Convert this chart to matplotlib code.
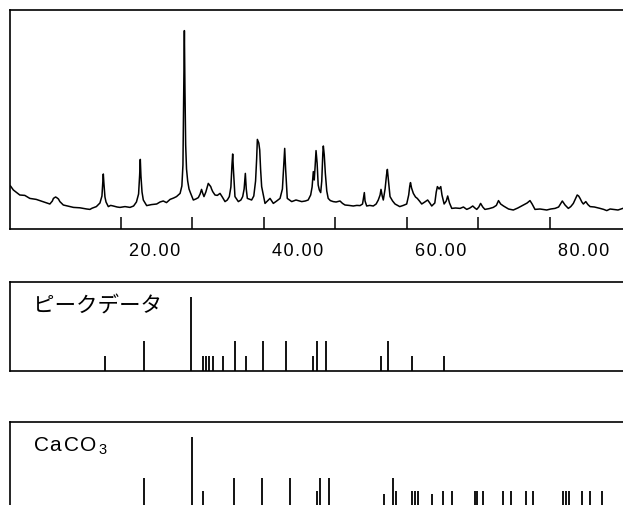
import matplotlib.pyplot as plt
import matplotlib.transforms as mtransforms

two_theta = [4.6, 5.0, 5.9, 6.6, 7.3, 8.2, 9.1, 10.1, 10.45, 10.6, 10.9, 11.05,
             11.3, 11.5, 11.98, 12.6, 13.4, 14.3, 15.25, 15.7, 16.0, 16.6, 17.1,
             17.38, 17.5, 17.57, 17.65, 17.8, 17.95, 18.27, 18.6, 18.97, 19.5,
             19.9, 20.6, 21.3, 21.8, 22.2, 22.5, 22.65, 22.74, 22.83, 22.98,
             23.16, 23.63, 24.3, 25.03, 25.5, 25.95, 26.4, 26.9, 27.4, 27.8,
             28.3, 28.55, 28.7, 28.8, 28.9, 28.98, 29.08, 29.2, 29.36, 29.55,
             29.78, 30.15, 30.5, 30.85, 31.1, 31.3, 31.45, 31.64, 31.9, 32.24,
             32.45, 32.58, 32.7, 32.86, 33.18, 33.5, 33.88, 34.2, 34.58, 34.9,
             35.18, 35.4, 35.55, 35.65, 35.75, 35.97, 36.44, 36.8, 37.05, 37.25,
             37.42, 37.55, 37.7, 38.3, 38.6, 38.85, 39.0, 39.1, 39.3, 39.43,
             39.55, 39.7, 40.17, 40.5, 40.87, 41.33, 41.8, 42.27, 42.6, 42.8,
             42.92, 43.05, 43.28, 43.9, 44.5, 45.3, 45.8, 46.2, 46.55, 46.75,
             46.92, 47.05, 47.15, 47.3, 47.45, 47.6, 47.76, 47.95, 48.1, 48.25,
             48.32, 48.45, 48.6, 48.8, 49.0, 49.3, 49.7, 50.1, 50.65, 51.0,
             51.35, 51.9, 52.5, 53.0, 53.45, 53.8, 53.95, 54.05, 54.15, 54.38,
             54.8, 55.3, 55.7, 56.0, 56.25, 56.38, 56.55, 56.7, 56.95, 57.15,
             57.27, 57.4, 57.64, 58.0, 58.34, 59.0, 59.5, 59.97, 60.25, 60.4,
             60.5, 60.65, 60.9, 61.2, 61.45, 61.75, 62.07, 62.5, 62.9, 63.2,
             63.47, 63.9, 64.1, 64.26, 64.5, 64.73, 64.9, 65.2, 65.5, 65.7,
             65.95, 66.27, 66.8, 67.43, 67.9, 68.36, 68.8, 69.2, 69.5, 69.76,
             70.05, 70.3, 70.6, 70.9, 71.5, 72.07, 72.5, 72.8, 73.1, 73.5,
             74.2, 74.87, 75.5, 76.27, 76.8, 77.2, 77.5, 77.9, 78.6, 79.54,
             80.1, 80.7, 81.2, 81.72, 82.1, 82.56, 82.9, 83.26, 83.55, 83.8,
             84.0, 84.2, 84.45, 84.66, 85.0, 85.3, 85.6, 86.2, 87.0, 87.5,
             87.93, 88.4, 88.86, 89.5, 90.17]
intensity = [215, 195, 170, 168, 153, 148, 137, 125, 140, 153, 160, 157,
             150, 137, 120, 115, 108, 106, 100, 98, 104, 112, 130,
             165, 230, 275, 230, 160, 135, 112, 118, 115, 110,
             108, 112, 108, 115, 135, 175, 270, 348, 265, 185,
             145, 117, 122, 125, 135, 140, 132, 148, 155, 162,
             178, 215, 320, 640, 992, 700, 420, 300, 240, 200,
             178, 145, 150, 157, 175, 198, 180, 162, 185, 228,
             218, 212, 200, 187, 170, 168, 178, 160, 137, 145,
             162, 210, 320, 375, 300, 162, 137, 145, 162, 200,
             278, 200, 153, 145, 165, 240, 350, 448, 430, 395,
             300, 212, 128, 140, 153, 128, 140, 153, 200, 330,
             403, 300, 153, 137, 145, 137, 140, 145, 170, 210,
             287, 245, 300, 392, 330, 220, 195, 182, 240, 380,
             415, 370, 278, 190, 153, 142, 137, 135, 140, 128,
             120, 118, 115, 118, 117, 125, 160, 182, 140, 115,
             118, 115, 125, 145, 170, 198, 165, 145, 200, 270,
             298, 250, 162, 140, 125, 112, 118, 125, 170, 215,
             232, 205, 178, 160, 153, 140, 125, 135, 145, 130,
             115, 130, 185, 212, 200, 212, 170, 125, 140, 165,
             130, 103, 105, 103, 110, 98, 105, 115, 105, 98,
             110, 128, 110, 98, 102, 108, 118, 142, 125, 115,
             100, 95, 105, 120, 130, 142, 125, 98, 100, 95,
             100, 103, 110, 140, 120, 103, 112, 128, 150, 170,
             165, 153, 135, 125, 137, 122, 112, 110, 103, 98,
             92, 100, 98, 95, 103]

# peak search result
peak_pos = [17.82, 23.26, 29.83, 31.5, 31.99, 32.38, 32.94, 34.26, 36.0, 37.5,
            39.93, 43.1, 46.9, 47.47, 48.69, 56.38, 57.4, 60.71, 65.19]
peak_int = [20, 40, 100, 20, 20, 20, 20, 20, 40, 20,
            40, 40, 20, 40, 40, 20, 40, 20, 20]

# CaCO3 reference card
ref_pos = [23.26, 29.92, 31.46, 35.88, 39.79, 43.66, 47.48, 47.85, 49.15,
           56.84, 58.01, 58.48, 60.67, 61.13, 61.59, 63.47, 65.09, 66.26,
           69.52, 69.84, 70.59, 73.39, 74.51, 76.6, 77.67, 81.77, 82.24,
           82.7, 84.43, 85.59, 87.23]
ref_int = [45, 100, 27, 45, 45, 45, 27, 45, 45,
           22, 45, 27, 27, 27, 27, 22, 27, 27,
           27, 27, 27, 27, 27, 27, 27, 27, 27,
           27, 27, 27, 27]

tick_pos = [20, 30, 40, 50, 60, 70, 80]
tick_lab = ['20.00', '', '40.00', '', '60.00', '', '80.00']

xmin, xmax = 4.53, 90.2
hs = '\u200a'  # the original lettering is widely spaced

fig = plt.figure(figsize=(6.23, 5.05), dpi=100)
ax1 = fig.add_axes([10/623, 1 - 229/505, 613/623, 219/505])
ax2 = fig.add_axes([10/623, 1 - 370.7/505, 613/623, 88.4/505])
ax3 = fig.add_axes([10/623, 1 - 510.7/505, 613/623, 88.4/505])

ax1.plot(two_theta, intensity, color='black', lw=1.1)
ax1.set_xlim(xmin, xmax)
ax1.set_ylim(0, 1095)
ax1.set_yticks([])
ax1.set_xticks(tick_pos)
ax1.set_xticklabels([hs.join(t) for t in tick_lab], fontsize=13,
                    family=['Liberation Sans', 'DejaVu Sans'])
ax1.tick_params(axis='x', direction='in', length=8.5, width=1.1, pad=10)
shift = mtransforms.ScaledTranslation(0.34, 0, fig.dpi_scale_trans)
for lab in ax1.get_xticklabels():
    lab.set_transform(lab.get_transform() + shift)

ax2.vlines(peak_pos, 0, peak_int, color='black', lw=1.3)
ax2.set_xlim(xmin, xmax)
ax2.set_ylim(0, 120)
ax2.set_xticks([])
ax2.set_yticks([])
ax2.text(0.0375, 0.73, 'ピークデータ', transform=ax2.transAxes, fontsize=15.5,
         family=['Noto Sans CJK JP', 'DejaVu Sans'], va='center', ha='left')

ax3.vlines(ref_pos, 0, ref_int, color='black', lw=1.3)
ax3.set_xlim(xmin, xmax)
ax3.set_ylim(0, 120)
ax3.set_xticks([])
ax3.set_yticks([])
ax3.text(0.038, 0.735, hs.join('CaCO') + hs + r'$_\mathregular{3}$',
         transform=ax3.transAxes, fontsize=15,
         family=['Liberation Sans', 'DejaVu Sans'], va='center', ha='left')

for ax in (ax1, ax2, ax3):
    ax.spines['right'].set_visible(False)
    for s in ('left', 'top', 'bottom'):
        ax.spines[s].set_linewidth(1.2)

fig.savefig('out.png', dpi=100)
